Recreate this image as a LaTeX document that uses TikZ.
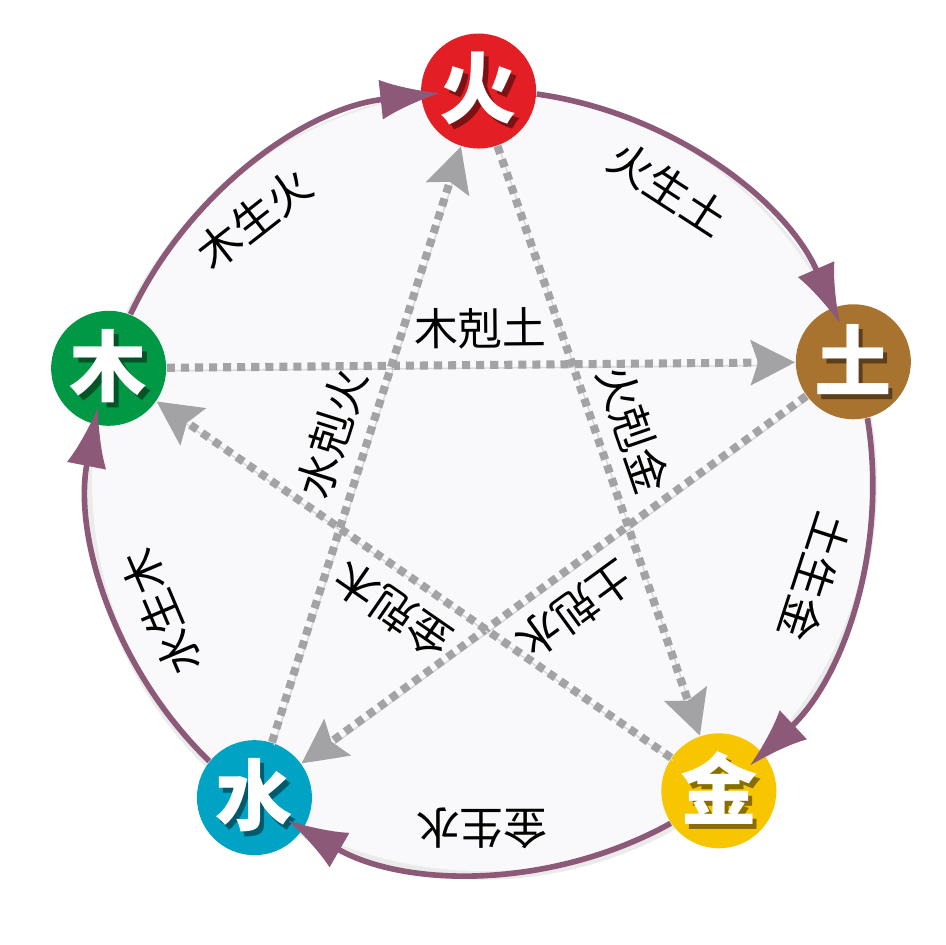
\documentclass[tikz,border=0pt]{standalone}
\usepackage{fontspec}
\setmainfont{Noto Sans CJK SC}
\usetikzlibrary{arrows.meta}
\definecolor{huoc}{HTML}{E31E24}
\definecolor{tuc}{HTML}{A8732F}
\definecolor{jinc}{HTML}{F7C600}
\definecolor{shuic}{HTML}{00A3C4}
\definecolor{muc}{HTML}{009845}
\definecolor{shengc}{HTML}{8C5A78}
\definecolor{kec}{HTML}{A3A3A6}
\definecolor{panc}{HTML}{F9F8FA}
\newcommand\elemtxt[2]{\makebox[0pt][l]{\hspace{1.2pt}\raisebox{-1.4pt}{\color{#1!55!black}#2}}{\color{white}#2}}
\tikzset{
  elem/.style={circle,fill=#1,minimum size=1.15cm,inner sep=0pt,font=\fontsize{22}{22}\selectfont\bfseries},
  sheng/.style={draw=shengc,line width=1.6pt,-{Latex[length=0.6cm,width=0.4cm]}},
  ke/.style={draw=kec,line width=2.3pt,dash pattern=on 2.3pt off 1.7pt,-{Stealth[length=0.44cm,width=0.44cm,inset=0.07cm]},
    preaction={draw=black!15,transform canvas={shift={(0.02,-0.03)}}}},
  lbl/.style={font=\fontsize{12.5}{12.5}\selectfont,inner sep=0pt}
}
\begin{document}
\begin{tikzpicture}
  \useasboundingbox (-4.82,-4.64) rectangle (4.63,4.81);
  \draw[black!8,line width=3pt] (0,-0.035) circle (3.9);
  \fill[panc] (0,0) circle (3.9);
  \foreach \a/\n/\t in {90.5/huo/火,17.8/tu/土,-52.6/jin/金,-125.7/shui/水,163.2/mu/木}
    \node[elem=\n c] (\n) at (\a:3.9) {\elemtxt{\n c}{\t}};
  \foreach \s/\a/\b in {mu/163.2/90.5,huo/90.5/17.8,tu/17.8/-52.6,jin/-52.6/-125.7,shui/-125.7/-196.8}
    \draw[sheng] (\s.{\a-94.23}) arc[start angle=\a-8.45,end angle=\b+5.8,radius=3.9];
  \foreach \s/\e/\t in {mu/tu/木剋土,tu/shui/土剋水,shui/huo/水剋火,huo/jin/火剋金,jin/mu/金剋木}
    \draw[ke] (\s) -- node[lbl,sloped,allow upside down,above=3.5pt] {\t} (\e);
  \foreach \p/\r/\t/\n in {131/38/木生火/mh,57.5/-33/火生土/ht,-16.1/-108/土生金/tj,-90/180/金生水/js,202.3/113/水生木/sm}
    \node[lbl,rotate=\r] (\n) at (\p:3.47) {\t};
\end{tikzpicture}
\end{document}
